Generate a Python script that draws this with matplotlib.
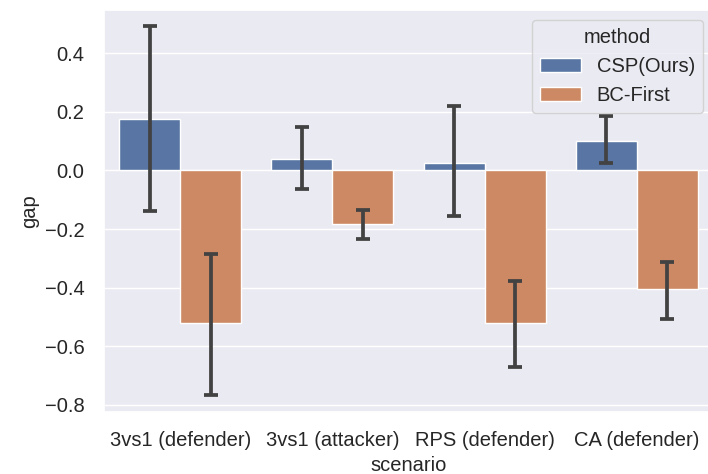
import numpy as np
import matplotlib
matplotlib.use("Agg")
import matplotlib.pyplot as plt
import seaborn as sns

sns.set_theme(style="darkgrid")
plt.rcParams['font.family'] = ['Liberation Sans', 'DejaVu Sans']
plt.rcParams['font.size'] = 14.5

scenarios = ["3vs1 (defender)", "3vs1 (attacker)", "RPS (defender)", "CA (defender)"]
methods = ["CSP(Ours)", "BC-First"]

# mean gap and confidence interval bounds
csp_mean = [0.175, 0.040, 0.026, 0.101]
csp_lo = [-0.139, -0.063, -0.156, 0.026]
csp_hi = [0.493, 0.149, 0.218, 0.184]

bc_mean = [-0.522, -0.184, -0.520, -0.406]
bc_lo = [-0.766, -0.235, -0.670, -0.508]
bc_hi = [-0.285, -0.135, -0.377, -0.312]

colors = ["#5975a4", "#cc8963"]

fig = plt.figure(figsize=(7.08, 4.74), dpi=100)
ax = fig.add_axes([104/708, 62/474, (713-104)/708, 402/474])

x = np.arange(len(scenarios))
series = [(csp_mean, csp_lo, csp_hi), (bc_mean, bc_lo, bc_hi)]
for i, (mean, lo, hi) in enumerate(series):
    mean = np.array(mean)
    xs = x - 0.2 + 0.4*i
    ax.bar(xs, mean, width=0.4, color=colors[i], edgecolor="white", label=methods[i])
    yerr = [mean - np.array(lo), np.array(hi) - mean]
    ax.errorbar(xs, mean, yerr=yerr, fmt="none", ecolor="#424242",
                elinewidth=2.7, capsize=5, capthick=2.7)

ax.set_xticks(x)
ax.set_xticklabels(scenarios, fontsize=14.5)
ax.set_yticks(np.arange(-0.8, 0.41, 0.2))
ax.tick_params(axis="both", labelsize=14.5, pad=8)
ax.set_xlim(-0.5, 3.5)
ax.set_ylim(-0.824, 0.547)
ax.xaxis.grid(False)
ax.set_xlabel("scenario", fontsize=14.5)
ax.set_ylabel("gap", fontsize=14.5)
ax.legend(title="method", loc="upper right", fontsize=14.5, title_fontsize=14.5)

fig.savefig("out.png", dpi=100)
